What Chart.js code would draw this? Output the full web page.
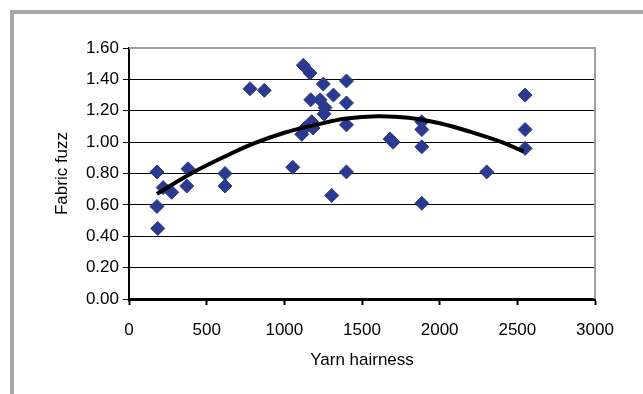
<!DOCTYPE html>
<html><head><meta charset="utf-8">
<script src="https://cdn.jsdelivr.net/npm/chart.js@4"></script>
<style>
html,body{margin:0;padding:0;background:#fff;width:643px;height:394px;overflow:hidden}
#frame{position:absolute;left:10px;top:10px;width:700px;height:420px;border-top:4px solid #a7a7a9;border-left:4px solid #a7a7a9}
#wrap{position:absolute;left:0;top:0;width:643px;height:394px}
</style></head><body>
<div id="frame"></div>
<div id="wrap"><canvas id="c" width="643" height="394"></canvas></div>
<script>
const hairness=[180,180,185,220,275,380,372,618,618,779,871,1054,1122,1165,1251,1400,1170,1230,1316,1400,1262,1256,1176,1133,1112,1185,1400,1681,1700,1885,1885,1885,1400,1305,1885,2303,2550,2550,2550];
const fuzz=[0.81,0.59,0.45,0.71,0.68,0.83,0.72,0.80,0.72,1.34,1.33,0.84,1.49,1.44,1.37,1.39,1.27,1.27,1.30,1.25,1.22,1.18,1.13,1.09,1.05,1.09,1.11,1.02,1.00,1.13,1.08,0.97,0.81,0.66,0.61,0.81,1.30,1.08,0.96];
const trendHairness=[180,400,600,800,1000,1200,1400,1600,1800,2000,2200,2400,2540];
const trendFuzz=[0.67,0.80,0.90,0.99,1.06,1.11,1.15,1.165,1.155,1.12,1.065,1.00,0.94];
const xTickStep=500, yTickStep=0.2;

const FONT="'Liberation Sans', Arial, sans-serif";
const plotBorder={id:'plotBorder',beforeDatasetsDraw(chart){
  const a=chart.chartArea,ctx=chart.ctx;ctx.save();
  ctx.strokeStyle='#a0a0a0';ctx.lineWidth=2;
  ctx.beginPath();ctx.moveTo(a.left,a.top);ctx.lineTo(a.right,a.top);ctx.lineTo(a.right,a.bottom);ctx.stroke();
  ctx.restore();}};

new Chart(document.getElementById('c'),{
  type:'scatter',
  data:{datasets:[
    {type:'line',data:trendHairness.map((x,i)=>({x,y:trendFuzz[i]})),borderColor:'#000',borderWidth:4,pointRadius:0,tension:0.4,fill:false},
    {data:hairness.map((x,i)=>({x,y:fuzz[i]})),pointStyle:'rectRot',pointRadius:7,backgroundColor:'#2b3a8f',borderColor:'#2b3a8f',borderWidth:1}
  ]},
  options:{
    responsive:false,animation:false,devicePixelRatio:1,
    layout:{padding:{left:48,top:48,right:48,bottom:19}},
    plugins:{legend:{display:false},tooltip:{enabled:false}},
    scales:{
      x:{type:'linear',min:0,max:3000,
        afterFit(s){s.height=76;},
        ticks:{stepSize:xTickStep,color:'#000',font:{family:FONT,size:17},padding:15,maxRotation:0,callback:v=>String(v)},
        grid:{drawOnChartArea:false,drawTicks:true,tickLength:6,tickColor:'#000',tickWidth:2},
        border:{color:'#000',width:3},
        title:{display:true,text:'Yarn hairness',color:'#000',font:{family:FONT,size:17}}},
      y:{min:0,max:1.6,
        afterFit(s){s.width=81;},
        ticks:{stepSize:yTickStep,color:'#000',font:{family:FONT,size:17},padding:4,callback:v=>Number(v).toFixed(2)},
        grid:{color:'#000',lineWidth:1,tickLength:6,tickColor:'#000'},
        border:{color:'#000',width:2},
        title:{display:true,text:'Fabric fuzz',color:'#000',font:{family:FONT,size:17}}}
    }
  },
  plugins:[plotBorder]
});
</script></body></html>
